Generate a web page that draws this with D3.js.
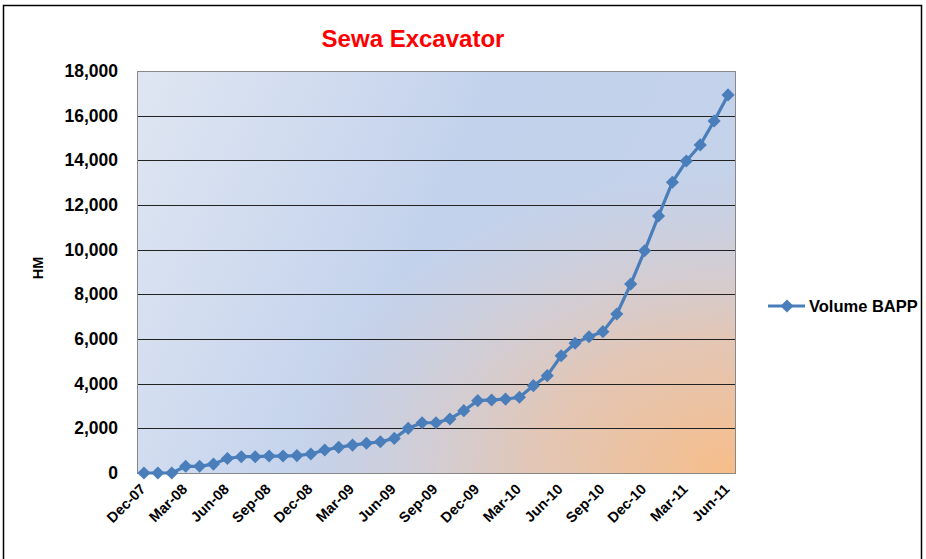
<!DOCTYPE html>
<html lang="en">
  <head>
    <meta charset="utf-8">
    <script src="https://d3js.org/d3.v7.min.js"></script>
    <title>Sewa Excavator</title>
    <style>
      body { margin: 0; background: #fff; }
      svg { font-family: "Liberation Sans", Arial, sans-serif; }
    </style>
  </head>
  <body>
    <div id="chart"></div>
    <script>
      // monthly categories, Dec-07 .. Jun-11
      var months = ["Dec-07","Jan-08","Feb-08","Mar-08","Apr-08","May-08","Jun-08","Jul-08","Aug-08","Sep-08",
                    "Oct-08","Nov-08","Dec-08","Jan-09","Feb-09","Mar-09","Apr-09","May-09","Jun-09","Jul-09",
                    "Aug-09","Sep-09","Oct-09","Nov-09","Dec-09","Jan-10","Feb-10","Mar-10","Apr-10","May-10",
                    "Jun-10","Jul-10","Aug-10","Sep-10","Oct-10","Nov-10","Dec-10","Jan-11","Feb-11","Mar-11",
                    "Apr-11","May-11","Jun-11"];
      var volumeBAPP = [0, 0, 0, 300, 300, 400, 650, 730, 730, 760,
                        760, 780, 850, 1030, 1150, 1250, 1330, 1400, 1550, 2000,
                        2250, 2250, 2420, 2790, 3240, 3270, 3310, 3390, 3910, 4360,
                        5250, 5810, 6100, 6330, 7120, 8460, 9950, 11510, 13020, 13970,
                        14690, 15760, 16930];
      var yTicks = [0, 2000, 4000, 6000, 8000, 10000, 12000, 14000, 16000, 18000];
      var seriesName = "Volume BAPP";

      var W = 926, H = 559;
      var plot = {left: 137, right: 735, top: 71, bottom: 473};
      var lineColor = "#4a7ebb";

      var svg = d3.select("#chart").append("svg")
          .attr("width", W).attr("height", H);

      // chart frame
      svg.append("rect")
          .attr("x", 3.5).attr("y", 5.5)
          .attr("width", 918).attr("height", 560)
          .attr("fill", "#fff").attr("stroke", "#000").attr("stroke-width", 1.5);

      var defs = svg.append("defs");
      var lin = defs.append("linearGradient").attr("id", "bgLin")
          .attr("x1", "0%").attr("y1", "0%").attr("x2", "100%").attr("y2", "30%");
      lin.append("stop").attr("offset", "0%").attr("stop-color", "#dfe6f2");
      lin.append("stop").attr("offset", "55%").attr("stop-color", "#c3d2ec");
      lin.append("stop").attr("offset", "100%").attr("stop-color", "#c4d2ea");
      var rad = defs.append("radialGradient").attr("id", "bgRad")
          .attr("cx", "100%").attr("cy", "100%").attr("r", "75%")
          .attr("gradientUnits", "objectBoundingBox");
      rad.append("stop").attr("offset", "0%").attr("stop-color", "#f7bd88").attr("stop-opacity", 1);
      rad.append("stop").attr("offset", "45%").attr("stop-color", "#e8c4ac").attr("stop-opacity", 0.85);
      rad.append("stop").attr("offset", "100%").attr("stop-color", "#d8cdd0").attr("stop-opacity", 0);

      var x = d3.scalePoint()
          .domain(months)
          .range([plot.left, plot.right])
          .padding(0.5);
      var y = d3.scaleLinear()
          .domain([0, 18000])
          .range([plot.bottom, plot.top]);

      // plot background
      svg.append("rect")
          .attr("x", plot.left).attr("y", plot.top)
          .attr("width", plot.right - plot.left).attr("height", plot.bottom - plot.top)
          .attr("fill", "url(#bgLin)");
      svg.append("rect")
          .attr("x", plot.left).attr("y", plot.top)
          .attr("width", plot.right - plot.left).attr("height", plot.bottom - plot.top)
          .attr("fill", "url(#bgRad)");

      // gridlines
      svg.append("g").selectAll("line")
          .data(yTicks.filter(function (d) { return d > 0 && d < 18000; }))
          .join("line")
          .attr("x1", plot.left).attr("x2", plot.right)
          .attr("y1", function (d) { return Math.round(y(d)) + 0.5; })
          .attr("y2", function (d) { return Math.round(y(d)) + 0.5; })
          .attr("stroke", "#222").attr("stroke-width", 1);

      // plot border
      svg.append("rect")
          .attr("x", plot.left + 0.5).attr("y", plot.top + 0.5)
          .attr("width", plot.right - plot.left).attr("height", plot.bottom - plot.top)
          .attr("fill", "none").attr("stroke", "#888").attr("stroke-width", 1);

      // y axis
      var yAxis = d3.axisLeft(y)
          .tickValues(yTicks)
          .tickSize(0)
          .tickPadding(17)
          .tickFormat(d3.format(","));
      var gy = svg.append("g")
          .attr("transform", "translate(" + (plot.left - 2) + ",0)")
          .call(yAxis);
      gy.select(".domain").remove();
      gy.selectAll("text")
          .style("font-size", "17.5px").style("font-weight", "bold")
          .attr("fill", "#000");

      // x axis, label every 3rd month
      var xAxis = d3.axisBottom(x)
          .tickValues(months.filter(function (d, i) { return i % 3 === 0; }))
          .tickSize(0);
      var gx = svg.append("g")
          .attr("transform", "translate(0," + plot.bottom + ")")
          .call(xAxis);
      gx.select(".domain").remove();
      gx.selectAll("text")
          .attr("text-anchor", "end")
          .attr("dy", null)
          .attr("y", 0)
          .attr("transform", "translate(2,17) rotate(-45)")
          .style("font-size", "14.5px").style("font-weight", "bold")
          .attr("fill", "#000");

      // y axis title
      svg.append("text")
          .attr("transform", "translate(43,268) rotate(-90)")
          .attr("text-anchor", "middle")
          .style("font-size", "14.5px").style("font-weight", "bold")
          .text("HM");

      // title
      svg.append("text")
          .attr("x", 413).attr("y", 47)
          .attr("text-anchor", "middle")
          .attr("fill", "#ff0000")
          .style("font-size", "24px").style("font-weight", "bold")
          .text("Sewa Excavator");

      // series
      var data = months.map(function (m, i) { return {month: m, value: volumeBAPP[i]}; });
      var line = d3.line()
          .x(function (d) { return x(d.month); })
          .y(function (d) { return y(d.value); });
      svg.append("path")
          .datum(data)
          .attr("d", line)
          .attr("fill", "none")
          .attr("stroke", lineColor).attr("stroke-width", 3.2)
          .attr("stroke-linejoin", "round");

      var diamond = d3.symbol().type(d3.symbolDiamond2).size(110);
      svg.append("g").selectAll("path")
          .data(data)
          .join("path")
          .attr("d", diamond)
          .attr("transform", function (d) { return "translate(" + x(d.month) + "," + y(d.value) + ")"; })
          .attr("fill", lineColor);

      // legend
      var lg = svg.append("g").attr("transform", "translate(768,306)");
      lg.append("line")
          .attr("x1", 0).attr("x2", 37).attr("y1", 0).attr("y2", 0)
          .attr("stroke", lineColor).attr("stroke-width", 3.2);
      lg.append("path")
          .attr("d", diamond)
          .attr("transform", "translate(19,0)")
          .attr("fill", lineColor);
      lg.append("text")
          .attr("x", 41).attr("y", 6)
          .style("font-size", "16.5px").style("font-weight", "bold")
          .text(seriesName);
    </script>
  </body>
</html>
